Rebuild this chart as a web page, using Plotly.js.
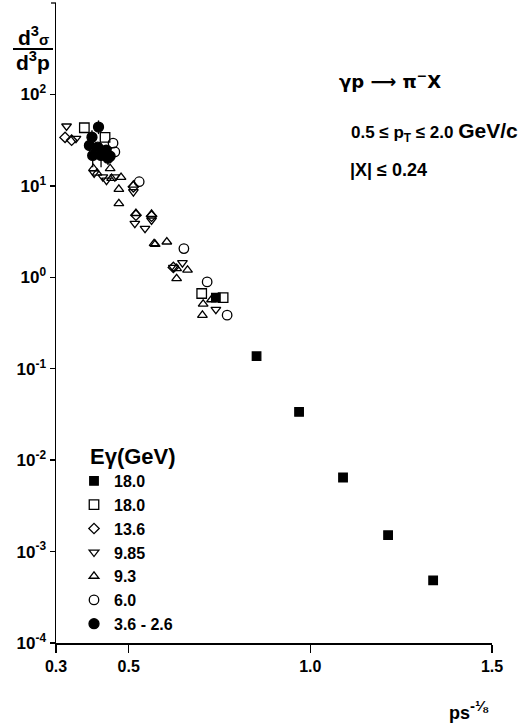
<!DOCTYPE html>
<html>
<head>
<meta charset="utf-8">
<script src="https://cdn.plot.ly/plotly-3.0.1.min.js"></script>
<style>html,body{margin:0;padding:0;background:#fff;}#chart{width:531px;height:725px;}</style>
</head>
<body>
<div id="chart"></div>
<script>
// ---- data ----
const legendNames = ['18.0', '18.0', '13.6', '9.85', '9.3', '6.0', '3.6 - 2.6'];

const fsq18X = [0.740, 0.852, 0.969, 1.090, 1.214, 1.338];
const fsq18Y = [0.60, 0.137, 0.0337, 0.00646, 0.00151, 0.000485];

const osq18X = [0.378, 0.435, 0.701, 0.760];
const osq18Y = [43.2, 33.9, 0.665, 0.60];

const dia136X = [0.325, 0.343, 0.513, 0.520, 0.563, 0.623];
const dia136Y = [33.9, 31.6, 9.75, 4.78, 4.66, 1.28];

const tdn985X = [0.329, 0.355, 0.405, 0.429, 0.439, 0.462, 0.513, 0.517, 0.563, 0.545, 0.648, 0.623, 0.740];
const tdn985Y = [45, 33, 13.8, 12.5, 11.5, 12.5, 8.6, 3.88, 4.22, 3.42, 1.44, 1.28, 0.445];

const tup93X = [0.403, 0.449, 0.413, 0.453, 0.479, 0.473, 0.473, 0.513, 0.520, 0.563, 0.570, 0.573, 0.605, 0.632, 0.662, 0.632, 0.728, 0.705, 0.703];
const tup93Y = [15.5, 15.5, 13.8, 12.1, 12.4, 9.2, 6.4, 10.2, 5.0, 4.9, 2.34, 2.30, 2.44, 1.25, 1.20, 0.97, 0.57, 0.51, 0.385];

const circ60X = [0.457, 0.462, 0.529, 0.652, 0.716, 0.771];
const circ60Y = [29.3, 23.5, 11.1, 2.06, 0.89, 0.385];

const fcircX = [0.417, 0.399, 0.392, 0.415, 0.438, 0.449, 0.401, 0.424, 0.443];
const fcircY = [43.9, 34.1, 27.7, 26.5, 24.6, 21.1, 21.5, 21.5, 20.1];
const fcircErrUp = [8.1, 6.5, 0, 0, 0, 0, 4.4, 4.4, 4.4];
const fcircErrDn = [7.1, 5.5, 0, 0, 0, 0, 5.5, 5.5, 3.2];

const xTickVals = [0.3, 0.5, 1.0, 1.5];
const xTickText = ['0.3', '0.5', '1.0', '1.5'];
const yTickVals = [1e-4, 1e-3, 1e-2, 1e-1, 1, 10, 100];
const yTickText = ['10<sup>-4</sup>', '10<sup>-3</sup>', '10<sup>-2</sup>', '10<sup>-1</sup>', '10<sup>0</sup>', '10<sup>1</sup>', '10<sup>2</sup>'];

// ---- chart ----
const FONT = 'Liberation Sans, Arial, sans-serif';
const ln = {color: '#000', width: 1.3};
function tr(x, y, name, symbol, size, extra) {
  return Object.assign({
    type: 'scatter', mode: 'markers', x: x, y: y, name: name, cliponaxis: false,
    marker: {symbol: symbol, size: size, color: '#000', line: ln}
  }, extra || {});
}
const traces = [
  tr(fsq18X, fsq18Y, legendNames[0], 'square', 8.5),
  tr(osq18X, osq18Y, legendNames[1], 'square-open', 9.5),
  tr(dia136X, dia136Y, legendNames[2], 'diamond-open', 8),
  tr(tdn985X, tdn985Y, legendNames[3], 'triangle-down-open', 8.5),
  tr(tup93X, tup93Y, legendNames[4], 'triangle-up-open', 8.5),
  tr(circ60X, circ60Y, legendNames[5], 'circle-open', 9.5),
  tr(fcircX, fcircY, legendNames[6], 'circle', 10, {
    error_y: {type: 'data', symmetric: false, array: fcircErrUp, arrayminus: fcircErrDn,
              color: '#000', thickness: 1.3, width: 0}
  })
];

const px2x = p => (p - 56) / 436;
const px2y = p => (643 - p) / 640;

const layout = {
  width: 531, height: 725,
  margin: {l: 56, r: 39, t: 3, b: 82},
  paper_bgcolor: '#fff', plot_bgcolor: '#fff',
  font: {family: FONT, color: '#000', size: 16, weight: 700},
  showlegend: true,
  legend: {
    x: px2x(74), y: px2y(464), xanchor: 'left', yanchor: 'top',
    bgcolor: 'rgba(0,0,0,0)', borderwidth: 0,
    font: {family: FONT, size: 16, weight: 700, color: '#000'},
    itemwidth: 30, tracegroupgap: 0
  },
  xaxis: {
    type: 'linear', range: [0.3, 1.5],
    showgrid: false, zeroline: false,
    showline: true, linecolor: '#000', linewidth: 1.5,
    ticks: 'outside', ticklen: 8, tickwidth: 1.3, tickcolor: '#000',
    tickmode: 'array', tickvals: xTickVals, ticktext: xTickText,
    tickfont: {family: FONT, size: 16, weight: 700}
  },
  yaxis: {
    type: 'log', range: [-4, 3],
    showgrid: false, zeroline: false,
    showline: true, linecolor: '#000', linewidth: 1.5,
    ticks: 'outside', ticklen: 5, tickwidth: 1.3, tickcolor: '#000',
    tickmode: 'array', tickvals: yTickVals, ticktext: yTickText,
    tickfont: {family: FONT, size: 17, weight: 700}
  },
  shapes: [
    {type: 'line', xref: 'paper', yref: 'paper', x0: px2x(13), x1: px2x(53), y0: px2y(49), y1: px2y(49),
     line: {color: '#000', width: 2}},
    {type: 'line', xref: 'paper', yref: 'paper', x0: px2x(51), x1: px2x(56), y0: 1, y1: 1,
     line: {color: '#000', width: 1.3}}
  ],
  annotations: [
    {xref: 'paper', yref: 'paper', x: px2x(33), y: px2y(36), xanchor: 'center', yanchor: 'middle', showarrow: false,
     text: 'd<sup>3</sup><span style="font-size:15px">σ</span>', font: {family: FONT, size: 21, weight: 700}},
    {xref: 'paper', yref: 'paper', x: px2x(33), y: px2y(61), xanchor: 'center', yanchor: 'middle', showarrow: false,
     text: 'd<sup>3</sup>p', font: {family: FONT, size: 21, weight: 700}},
    {xref: 'paper', yref: 'paper', x: px2x(337), y: px2y(80), xanchor: 'left', yanchor: 'middle', showarrow: false,
     text: 'γp ⟶ π<sup>−</sup>X', font: {family: 'DejaVu Sans, ' + FONT, size: 18, weight: 700}},
    {xref: 'paper', yref: 'paper', x: px2x(349), y: px2y(132), xanchor: 'left', yanchor: 'middle', showarrow: false,
     text: '0.5 ≤ p<sub>T</sub> ≤ 2.0 <span style="font-size:21px">GeV/c</span>', font: {family: FONT, size: 17, weight: 700}},
    {xref: 'paper', yref: 'paper', x: px2x(348), y: px2y(170), xanchor: 'left', yanchor: 'middle', showarrow: false,
     text: '|X| ≤ 0.24', font: {family: FONT, size: 18, weight: 700}},
    {xref: 'paper', yref: 'paper', x: px2x(88), y: px2y(456), xanchor: 'left', yanchor: 'middle', showarrow: false,
     text: 'Eγ(GeV)', font: {family: FONT, size: 22, weight: 700}},
    {xref: 'paper', yref: 'paper', x: px2x(447), y: px2y(710), xanchor: 'left', yanchor: 'middle', showarrow: false,
     text: 'ps<sup><span style="font-size:15px">-⅛</span></sup>', font: {family: FONT, size: 18, weight: 700}}
  ]
};

Plotly.newPlot('chart', traces, layout, {displayModeBar: false, staticPlot: true});
</script>
</body>
</html>
